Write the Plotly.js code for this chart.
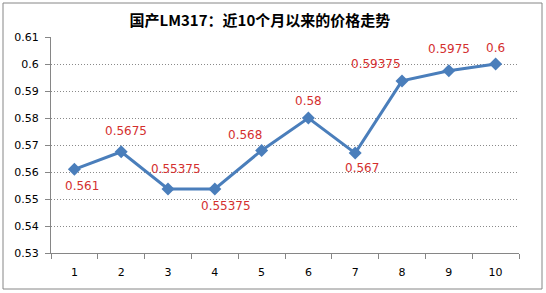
<!DOCTYPE html>
<html>
<head>
<meta charset="utf-8">
<script src="https://cdn.plot.ly/plotly-3.0.1.min.js"></script>
<style>html,body{margin:0;padding:0;background:#fff;}#chart{width:546px;height:293px;}</style>
</head>
<body>
<div id="chart"></div>
<script>
const months = ['1','2','3','4','5','6','7','8','9','10'];
const prices = [0.561, 0.5675, 0.55375, 0.55375, 0.568, 0.58, 0.567, 0.59375, 0.5975, 0.6];
const priceLabels = ['0.561','0.5675','0.55375','0.55375','0.568','0.58','0.567','0.59375','0.5975','0.6'];
const yTicks = [0.53,0.54,0.55,0.56,0.57,0.58,0.59,0.6,0.61];
const yTickText = ['0.53','0.54','0.55','0.56','0.57','0.58','0.59','0.6','0.61'];
const titleText = '国产LM317：近10个月以来的价格走势';

// label offsets (pixels) relative to each point
const labelShift = [[8,-17],[5,21],[8,20],[11,-17],[-17,15],[0,17],[7,-15],[-26,17],[0,22],[0,16]];

const annotations = prices.map((v,i)=>({
  x: i, y: v, xref:'x', yref:'y', text: priceLabels[i], showarrow:false,
  xshift: labelShift[i][0], yshift: labelShift[i][1],
  font:{family:'DejaVu Sans, Verdana, sans-serif', size:12, color:'#d42f2f'}
}));

const trace = {
  x: months, y: prices, type:'scatter', mode:'lines+markers',
  line:{color:'#4a7ebb', width:3},
  marker:{symbol:'diamond', size:10, color:'#4a7ebb'},
  hoverinfo:'none'
};

const layout = {
  width:546, height:293,
  margin:{l:51, r:27, t:37, b:40},
  paper_bgcolor:'#fff', plot_bgcolor:'#fff',
  showlegend:false,
  title:{text:titleText, x:0.476, xanchor:'center', y:0.928, yanchor:'middle',
    font:{family:'Noto Sans CJK SC, sans-serif', size:15, color:'#000', weight:'bold'}},
  xaxis:{type:'category', range:[-0.5, 9.5], tickson:'boundaries', ticks:'outside', ticklen:5, tickcolor:'#868686',
    showline:true, linecolor:'#868686', linewidth:1, showgrid:false, zeroline:false,
    tickfont:{family:'DejaVu Sans, Verdana, sans-serif', size:11, color:'#000'}, ticklabelstandoff:9,
    fixedrange:true},
  yaxis:{range:[0.53,0.61], tickmode:'array', tickvals:yTicks, ticktext:yTickText,
    ticks:'outside', ticklen:5, tickcolor:'#868686',
    showline:true, linecolor:'#868686', linewidth:1,
    showgrid:true, gridcolor:'#8a8a8a', griddash:'1px,2px', gridwidth:1, zeroline:false,
    tickfont:{family:'DejaVu Sans, Verdana, sans-serif', size:11, color:'#000'}, ticklabelstandoff:4,
    fixedrange:true},
  annotations: annotations,
  shapes:[{type:'rect', xref:'paper', yref:'paper', x0:-48/468, x1:491/468, y0:-36/216, y1:250/216,
    line:{color:'#868686', width:1}, fillcolor:'rgba(0,0,0,0)', layer:'below'}]
};

Plotly.newPlot('chart',[trace],layout,{displayModeBar:false, staticPlot:true});
</script>
</body>
</html>
